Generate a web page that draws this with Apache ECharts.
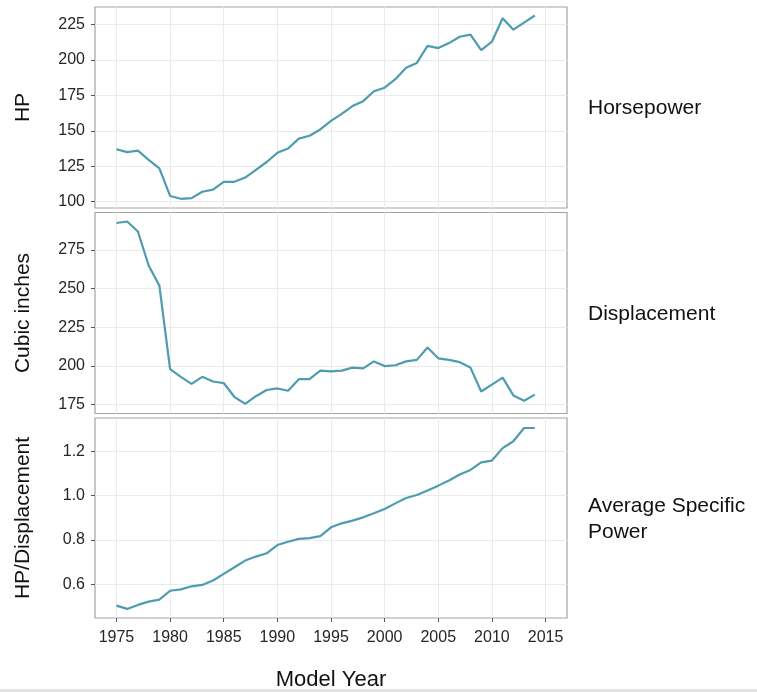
<!DOCTYPE html>
<html>
<head>
<meta charset="utf-8">
<script src="https://cdn.jsdelivr.net/npm/echarts@6/dist/echarts.min.js"></script>
<style>
  html, body { margin: 0; padding: 0; background: #ffffff; }
  #chart { width: 757px; height: 692px; }
</style>
</head>
<body>
<div id="chart"></div>
<script>
// Model years covered by every panel
const years = [
  1975, 1976, 1977, 1978, 1979, 1980, 1981, 1982, 1983, 1984,
  1985, 1986, 1987, 1988, 1989, 1990, 1991, 1992, 1993, 1994,
  1995, 1996, 1997, 1998, 1999, 2000, 2001, 2002, 2003, 2004,
  2005, 2006, 2007, 2008, 2009, 2010, 2011, 2012, 2013, 2014
];

// Average horsepower (HP)
const horsepower = [
  137, 135, 136, 129.5, 123.5, 104, 102, 102.5, 107, 108.5,
  114, 114, 117, 122.5, 128, 134.5, 137.5, 144.5, 146.5, 151,
  157, 162, 167.5, 171, 178, 180.5, 186.5, 194.5, 198, 210,
  208.5, 212, 216.5, 218, 207, 213, 229.5, 221.5, 226.5, 231.5
];

// Average displacement (cubic inches)
const displacement = [
  292.5, 293.5, 287, 265, 252, 198, 193, 188.5, 193, 190,
  189, 180, 175.5, 180.5, 184.5, 185.5, 184, 191.5, 191.5, 197,
  196.5, 197, 199, 198.5, 203, 200, 200.5, 203, 204, 212,
  205, 204, 202.5, 199, 183.5, 188, 192.5, 181, 177.5, 181.5
];

// Average specific power (HP per cubic inch)
const specificPower = [
  0.504, 0.489, 0.507, 0.522, 0.531, 0.571, 0.577, 0.591, 0.597, 0.617,
  0.647, 0.677, 0.707, 0.725, 0.740, 0.777, 0.792, 0.805, 0.808, 0.817,
  0.857, 0.875, 0.887, 0.902, 0.920, 0.940, 0.965, 0.989, 1.003, 1.023,
  1.045, 1.068, 1.095, 1.116, 1.150, 1.158, 1.214, 1.245, 1.305, 1.305
];

// Tick labels
const yearTicks = [1975, 1980, 1985, 1990, 1995, 2000, 2005, 2010, 2015];
const hpTicks = [100, 125, 150, 175, 200, 225];
const dispTicks = [175, 200, 225, 250, 275];
const ratioTicks = [0.6, 0.8, 1.0, 1.2];

const axisTitles = ['HP', 'Cubic inches', 'HP/Displacement'];
const panelTitles = ['Horsepower', 'Displacement', 'Average Specific\nPower'];

const panels = [
  { values: horsepower, ticks: hpTicks, min: 95.5, max: 237.5, fmt: v => String(v) },
  { values: displacement, ticks: dispTicks, min: 169.3, max: 299.3, fmt: v => String(v) },
  { values: specificPower, ticks: ratioTicks, min: 0.448, max: 1.350, fmt: v => Number(v).toFixed(1) }
];

const FONT = '"Liberation Sans", Arial, Helvetica, sans-serif';
const LINE_COLOR = '#4f9bb0';
const GRID_LINE = '#ebebeb';
const BORDER = '#a3a3a3';

const panelLeft = 95;
const panelWidth = 472;
const panelHeight = 201;
const panelTops = [7, 212.5, 418];

const grids = [], xAxes = [], yAxes = [], series = [], graphics = [];

panels.forEach((p, i) => {
  const isBottom = i === panels.length - 1;
  grids.push({
    left: panelLeft, top: panelTops[i], width: panelWidth, height: panelHeight,
    show: true, borderColor: BORDER, borderWidth: 1.2, backgroundColor: '#ffffff'
  });
  xAxes.push({
    type: 'value', gridIndex: i, min: 1973, max: 2017,
    axisLine: { show: false },
    axisTick: { show: isBottom, customValues: yearTicks, length: 4, lineStyle: { color: '#555', width: 1 } },
    axisLabel: {
      show: isBottom, customValues: yearTicks, margin: 12, formatter: v => String(v),
      fontFamily: FONT, fontSize: 16, color: '#262626'
    },
    splitLine: { show: true, lineStyle: { color: GRID_LINE, width: 1 } },
    name: isBottom ? 'Model Year' : '',
    nameLocation: 'middle', nameGap: 51,
    nameTextStyle: { fontFamily: FONT, fontSize: 22, color: '#111' }
  });
  yAxes.push({
    type: 'value', gridIndex: i, min: p.min, max: p.max,
    axisLine: { show: false },
    axisTick: { show: true, customValues: p.ticks, length: 4, lineStyle: { color: '#555', width: 1 } },
    axisLabel: {
      customValues: p.ticks, margin: 10, formatter: p.fmt,
      fontFamily: FONT, fontSize: 16, color: '#262626'
    },
    splitLine: { show: true, lineStyle: { color: GRID_LINE, width: 1 } },
    name: axisTitles[i], nameLocation: 'middle', nameGap: 61, nameRotate: 90,
    nameTextStyle: { fontFamily: FONT, fontSize: 21, color: '#111' }
  });
  series.push({
    type: 'line', xAxisIndex: i, yAxisIndex: i,
    data: years.map((y, k) => [y, p.values[k]]),
    showSymbol: false, symbol: 'none', silent: true,
    lineStyle: { color: LINE_COLOR, width: 2.2 },
    z: 5
  });
  graphics.push({
    type: 'text', left: 588, top: panelTops[i] + panelHeight / 2 - (panelTitles[i].includes('\n') ? 25 : 12),
    style: {
      text: panelTitles[i], fontFamily: FONT, fontSize: 21, fill: '#111', lineHeight: 26
    }
  });
});

// thin grey strip along the bottom edge of the canvas
graphics.push({
  type: 'rect', left: 0, top: 689, shape: { width: 757, height: 3 },
  style: { fill: '#e2e2e2' }
});

const chart = echarts.init(document.getElementById('chart'), null, { renderer: 'canvas' });
chart.setOption({
  animation: false,
  backgroundColor: '#ffffff',
  grid: grids,
  xAxis: xAxes,
  yAxis: yAxes,
  series: series,
  graphic: graphics
});
</script>
</body>
</html>
